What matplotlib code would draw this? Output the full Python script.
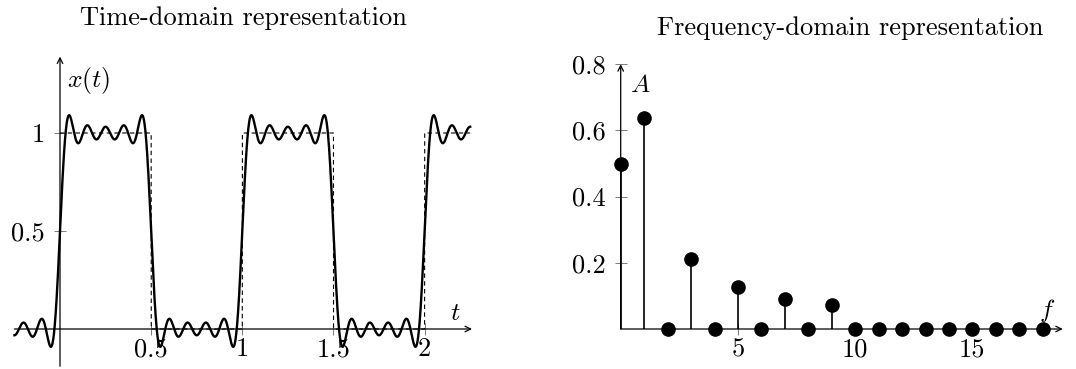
import numpy as np
import matplotlib
matplotlib.use("Agg")
import matplotlib.pyplot as plt

plt.rcParams["font.family"] = ["cmr10", "DejaVu Serif"]
plt.rcParams["mathtext.fontset"] = "cm"
plt.rcParams["axes.formatter.use_mathtext"] = True

# spectrum (amplitude per harmonic)
freqs = np.arange(0, 19)
amps = np.array([0.5, 0.637, 0, 0.212, 0, 0.127, 0, 0.091, 0, 0.071,
                 0, 0, 0, 0, 0, 0, 0, 0, 0])

period = 1.0
duty = 0.5

t_ticks = [0.5, 1, 1.5, 2]
t_ticklabels = ["0.5", "1", "1.5", "2"]
x_ticks = [0.5, 1]
x_ticklabels = ["0.5", "1"]
f_ticks = [5, 10, 15]
f_ticklabels = ["5", "10", "15"]
a_ticks = [0.2, 0.4, 0.6, 0.8]
a_ticklabels = ["0.2", "0.4", "0.6", "0.8"]

W, H = 1076, 369
fig = plt.figure(figsize=(W / 100, H / 100), dpi=100)
FS = 19


def px_axes(x0, x1, y0, y1):
    # x0..x1 left/right pixel, y0..y1 top/bottom pixel
    return fig.add_axes([x0 / W, 1 - y1 / H, (x1 - x0) / W, (y1 - y0) / H])


def style(ax):
    for s in ax.spines.values():
        s.set_visible(False)
    ax.spines["left"].set_position(("data", 0))
    ax.spines["bottom"].set_position(("data", 0))
    ax.tick_params(direction="inout", length=8, width=0.6, color="#666666",
                   labelsize=FS)
    ax.tick_params(axis="x", pad=2)
    ax.tick_params(axis="y", pad=7)


def arrow(ax, start, end):
    ax.annotate("", xy=end, xytext=start,
                arrowprops=dict(arrowstyle="->", lw=0.9, color="black",
                                shrinkA=0, shrinkB=0, mutation_scale=10))


# ---- time domain ----
ax1 = px_axes(60 - 0.3 * 182.3, 60 + 2.35 * 182.3, 329 - 1.4 * 196, 329 + 0.2 * 196)
ax1.set_xlim(-0.3, 2.35)
ax1.set_ylim(-0.2, 1.4)
style(ax1)

# partial Fourier sum built from the spectrum
t = np.linspace(-0.25, 2.25, 6000)
x = np.full_like(t, amps[0])
for k, a in zip(freqs[1:], amps[1:]):
    x += a * np.sin(2 * np.pi * k * t / period)

tq = np.linspace(0, 2.25, 20000)
ideal = (np.mod(tq, period) < duty * period).astype(float)
ax1.plot(tq, ideal, ls=(0, (4, 3)), lw=0.8, color="black")
ax1.plot(t, x, lw=1.7, color="black")

arrow(ax1, (-0.25, 0), (2.26, 0))
arrow(ax1, (0, -0.19), (0, 1.39))
ax1.set_xticks(t_ticks, t_ticklabels)
ax1.set_yticks(x_ticks, x_ticklabels)
ax1.text(0.04, 1.27, r"$x(t)$", fontsize=18.5, va="center", ha="left")
ax1.text(2.17, 0.08, r"$t$", fontsize=18.5, va="center", ha="center")

# ---- frequency domain ----
ax2 = px_axes(620.7 - 1 * 23.45, 620.7 + 19.2 * 23.45, 329 - 0.85 * 331, 329 + 0.1 * 331)
ax2.set_xlim(-1, 19.2)
ax2.set_ylim(-0.1, 0.85)
style(ax2)

ax2.vlines(freqs, 0, amps, color="black", lw=1.2)
ax2.plot(freqs, amps, "o", color="black", ms=9.5, zorder=5)
arrow(ax2, (0, 0), (18.85, 0))
arrow(ax2, (0, 0), (0, 0.8))
ax2.set_xticks(f_ticks, f_ticklabels)
ax2.set_yticks(a_ticks, a_ticklabels)
ax2.text(0.82, 0.737, r"$A$", fontsize=18.5, va="center", ha="center")
ax2.text(18.2, 0.057, r"$f$", fontsize=18.5, va="center", ha="center")

fig.text(243.5 / W, 1 - 25 / H, "Time-domain representation", fontsize=FS,
         ha="center", va="baseline")
fig.text(850 / W, 1 - 35 / H, "Frequency-domain representation", fontsize=FS,
         ha="center", va="baseline")

fig.savefig("out.png", dpi=100)
